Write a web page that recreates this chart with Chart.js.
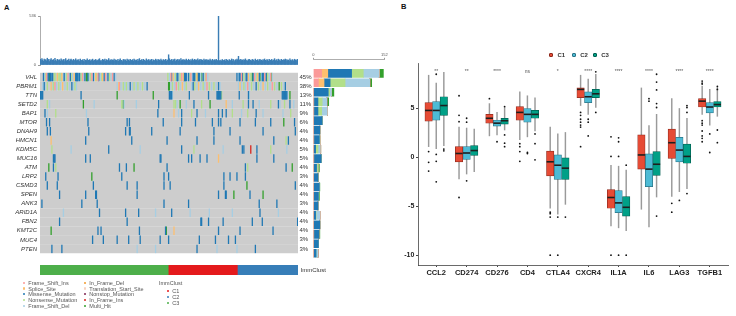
<!DOCTYPE html>
<html>
<head>
<meta charset="utf-8">
<script src="https://cdn.jsdelivr.net/npm/chart.js@4.4.1/dist/chart.umd.min.js"></script>
<style>
  body { margin: 0; width: 736px; height: 316px; overflow: hidden; background: #fff; position: relative; font-family: "Liberation Sans", Arial, sans-serif; }
  canvas { position: absolute; }
  .panel { position: absolute; font-weight: bold; font-size: 7.5px; color: #111; }
  .lab { position: absolute; font-size: 5.5px; line-height: 6px; color: #555; white-space: nowrap; }
  .dot { position: absolute; width: 2.2px; height: 2.2px; border-radius: 1.1px; }
  .sq { position: absolute; width: 4.4px; height: 4.4px; border-radius: 1px; box-sizing: border-box; border: 0.6px solid #333; }
  .labB { position: absolute; font-size: 6px; line-height: 7px; font-weight: bold; color: #333; }
</style>
</head>
<body>
<div class="panel" style="left:4px; top:3px;">A</div>
<div class="panel" style="left:401px; top:2px;">B</div>
<canvas id="tmbChart" width="302" height="60" style="left:0; top:10px;"></canvas>
<canvas id="oncoChart" width="332" height="194" style="left:0; top:66px;"></canvas>
<canvas id="countChart" width="95" height="210" style="left:300px; top:50px;"></canvas>
<canvas id="clustChart" width="340" height="22" style="left:0; top:259px;"></canvas>
<div id="legendA"></div>
<canvas id="boxChart" width="366" height="276" style="left:370px; top:40px;"></canvas>
<div id="legendB"></div>
<script>
// ---------- panel A data ----------
var nSamples = 336;
var genes = ['VHL', 'PBRM1', 'TTN', 'SETD2', 'BAP1', 'MTOR', 'DNAH9', 'HMCN1', 'KDM5C', 'MUC16',
             'ATM', 'LRP2', 'CSMD3', 'SPEN', 'ANK3', 'ARID1A', 'FBN2', 'KMT2C', 'MUC4', 'PTEN'];
var genePct = ['45%', '38%', '13%', '11%', '9%', '6%', '4%', '4%', '5%', '5%',
               '4%', '3%', '4%', '4%', '3%', '4%', '4%', '4%', '3%', '3%'];

// mutations per sample (top bar plot)
var tmb = [
  62,48,71,55,40,66,52,58,45,74,50,61,38,57,69,47,53,60,44,72,51,39,63,56,
  49,58,42,67,54,46,61,37,59,70,43,55,48,64,41,57,66,50,45,62,53,40,68,47,
  56,44,60,39,65,51,47,58,42,63,36,54,49,67,45,52,59,41,57,48,64,43,55,50,
  61,46,53,40,58,69,44,51,37,62,55,48,66,42,59,47,53,71,45,56,39,60,52,49,
  64,43,57,50,46,63,41,55,68,48,52,38,61,45,58,54,40,66,49,57,44,62,51,47,
  59,42,65,53,48,56,39,61,45,70,52,47,58,43,63,50,55,41,67,46,54,60,44,57,
  49,62,38,56,52,45,64,48,58,41,60,53,46,66,50,43,59,55,47,62,40,57,51,112,
  68,54,47,61,43,58,50,65,39,56,52,62,46,59,44,71,49,55,60,42,57,48,64,51,
  45,63,52,40,58,47,66,53,44,61,50,57,42,68,48,55,62,46,59,51,43,64,49,56,
  60,41,57,53,47,65,50,44,62,55,39,58,48,63,52,45,536,49,37,54,43,60,46,51,
  57,42,63,48,55,40,59,52,46,66,44,61,50,38,58,47,64,53,95,57,45,62,49,56,
  43,60,51,67,46,54,41,58,63,48,55,44,61,50,57,39,65,52,47,59,42,56,62,49,
  54,45,60,48,66,51,43,58,55,40,63,47,52,61,44,57,50,69,46,53,59,42,64,48,
  56,41,62,50,47,58,53,65,44,60,49,55,43,67,51,46,59,54,40,63,52,57,45,61
];

// [sample, type]  I=Frame_Shift_Ins S=Splice_Site M=Missense N=Nonsense D=Frame_Shift_Del
// F=In_Frame_Del T=Translation_Start_Site O=Nonstop R=In_Frame_Ins H=Multi_Hit
var mutVHL = [[4,'M'],[5,'D'],[7,'N'],[8,'I'],[10,'M'],[11,'M'],[12,'H'],[13,'M'],[14,'M'],[15,'D'],[16,'M'],[18,'N'],[19,'N'],[20,'D'],[22,'S'],[23,'N'],[25,'N'],[26,'D'],[27,'N'],[28,'S'],[30,'D'],[31,'M'],[33,'D'],[34,'N'],[36,'I'],[37,'D'],[39,'M'],[40,'N'],[42,'D'],[44,'S'],[46,'M'],[47,'M'],[48,'M'],[49,'M'],[50,'D'],[51,'M'],[53,'N'],[55,'I'],[56,'D'],[58,'M'],[60,'H'],[61,'H'],[62,'M'],[64,'D'],[65,'N'],[67,'I'],[69,'M'],[70,'D'],[72,'S'],[73,'N'],[75,'I'],[76,'M'],[78,'D'],[80,'N'],[81,'S'],[83,'M'],[85,'I'],[86,'D'],[88,'M'],[90,'N'],[92,'D'],[94,'I'],[96,'M'],[98,'D'],
  [166,'N'],[168,'D'],[170,'I'],[171,'M'],[173,'S'],[174,'D'],[176,'N'],[178,'M'],[179,'M'],[181,'D'],[182,'N'],[184,'I'],[186,'S'],[187,'M'],[188,'M'],[189,'M'],[190,'M'],[192,'D'],[193,'M'],[195,'N'],[196,'I'],[198,'D'],[199,'M'],[200,'M'],[201,'M'],[203,'N'],[204,'S'],[205,'M'],[206,'M'],[207,'M'],[209,'D'],[210,'H'],[212,'M'],[213,'D'],[215,'N'],[216,'I'],[218,'D'],
  [256,'M'],[258,'D'],[259,'M'],[260,'M'],[262,'I'],[263,'M'],[265,'N'],[266,'D'],[268,'M'],[269,'M'],[271,'S'],[272,'D'],[274,'N'],[276,'H'],[277,'M'],[279,'I'],[280,'D'],[282,'N'],[283,'S'],[285,'M'],[286,'H'],[288,'D'],[289,'M'],[290,'M'],[291,'M'],[292,'I'],[294,'M'],[295,'H'],[296,'N'],[298,'D'],[300,'I'],[301,'H'],[302,'D']];
var mutPBRM1 = [[3,'D'],[5,'M'],[6,'D'],[9,'N'],[14,'S'],[15,'D'],[17,'N'],[19,'I'],[21,'D'],[24,'N'],[26,'D'],[29,'S'],[32,'D'],[35,'N'],[38,'D'],[41,'M'],[43,'D'],[45,'N'],[47,'D'],
  [100,'D'],[102,'S'],[103,'I'],[105,'D'],[108,'N'],[110,'D'],[112,'N'],[114,'D'],[117,'M'],[120,'D'],[122,'N'],[125,'D'],[127,'N'],[130,'D'],[133,'N'],[136,'D'],[139,'M'],
  [167,'H'],[168,'H'],[170,'D'],[172,'N'],[175,'D'],[177,'I'],[180,'N'],[182,'D'],[185,'S'],[188,'D'],[190,'N'],[197,'D'],[199,'M'],[201,'N'],[204,'D'],[206,'S'],[209,'D'],[212,'N'],[214,'D'],[217,'I'],[220,'N'],[223,'D'],[226,'N'],[229,'D'],[232,'M'],[234,'D'],
  [258,'D'],[260,'S'],[262,'D'],[265,'N'],[267,'D'],[270,'I'],[272,'D'],[275,'N'],[278,'D'],[281,'M'],[284,'N'],[287,'D'],[290,'S'],[293,'D'],[296,'N'],[299,'D'],[302,'I'],[305,'N'],[308,'D'],[311,'H'],[314,'N'],[317,'D'],[319,'M']];
var mutTTN = [[0,'M'],[1,'M'],[2,'M'],[3,'M'],[53,'M'],[100,'H'],[147,'H'],[168,'M'],[169,'M'],[170,'M'],[171,'M'],[172,'D'],[194,'M'],[219,'M'],[230,'M'],[231,'M'],[232,'M'],[233,'M'],[234,'M'],[235,'M'],[236,'N'],[259,'M'],[271,'M'],[272,'D'],[315,'M'],[316,'M'],[317,'M'],[318,'M'],[319,'M'],[320,'M'],[321,'M'],[322,'D'],[325,'H']];
var mutSETD2 = [[9,'N'],[12,'D'],[56,'H'],[70,'D'],[106,'N'],[108,'H'],[109,'D'],[125,'D'],[154,'M'],[174,'N'],[176,'N'],[178,'D'],[182,'H'],[190,'D'],[200,'M'],[210,'N'],[221,'H'],[242,'S'],[250,'D'],[264,'N'],[271,'M'],[277,'M'],[285,'D'],[300,'N'],[310,'M'],[312,'D'],[318,'N'],[325,'M'],[330,'D']];
var mutBAP1 = [[6,'M'],[9,'D'],[20,'N'],[60,'D'],[153,'M'],[174,'S'],[180,'D'],[184,'M'],[197,'N'],[204,'M'],[215,'D'],[232,'M'],[237,'M'],[242,'M'],[250,'N'],[262,'D'],[270,'N'],[281,'M'],[290,'D'],[316,'D'],[326,'N']];
var mutMTOR = [[8,'M'],[12,'M'],[62,'M'],[113,'M'],[116,'M'],[160,'M'],[184,'M'],[202,'M'],[224,'M'],[232,'M'],[235,'M'],[260,'M'],[280,'M'],[300,'M'],[317,'H'],[331,'M']];
var mutDNAH9 = [[9,'M'],[13,'M'],[63,'M'],[111,'M'],[116,'M'],[117,'M'],[145,'M'],[182,'M'],[226,'M'],[247,'M'],[290,'M'],[332,'M']];
var mutHMCN1 = [[14,'S'],[59,'M'],[119,'M'],[165,'M'],[204,'M'],[226,'M'],[260,'M'],[304,'M'],[320,'N'],[323,'M']];
var mutKDM5C = [[15,'N'],[40,'D'],[89,'M'],[130,'D'],[184,'M'],[200,'N'],[238,'D'],[263,'M'],[265,'M'],[274,'R'],[282,'M'],[300,'N'],[321,'D']];
var mutMUC16 = [[17,'M'],[18,'M'],[19,'M'],[59,'M'],[65,'M'],[156,'M'],[157,'M'],[193,'M'],[197,'M'],[208,'M'],[217,'M'],[232,'S'],[282,'M'],[304,'M']];
var mutATM = [[11,'H'],[17,'M'],[20,'N'],[103,'M'],[112,'M'],[122,'H'],[165,'M'],[267,'M'],[270,'N'],[320,'M'],[328,'H']];
var mutLRP2 = [[7,'M'],[23,'M'],[67,'H'],[106,'M'],[161,'M'],[167,'M'],[239,'M'],[247,'M'],[256,'M'],[267,'M']];
var mutCSMD3 = [[9,'M'],[22,'M'],[69,'M'],[113,'M'],[126,'M'],[161,'M'],[169,'M'],[239,'M'],[269,'H'],[332,'M']];
var mutSPEN = [[25,'M'],[59,'M'],[72,'M'],[73,'M'],[126,'M'],[232,'M'],[241,'M'],[242,'M'],[252,'H'],[273,'M'],[290,'H']];
var mutANK3 = [[2,'M'],[54,'M'],[74,'M'],[161,'M'],[193,'M'],[285,'M'],[308,'M']];
var mutARID1A = [[30,'D'],[77,'M'],[111,'M'],[128,'M'],[150,'D'],[171,'M'],[195,'D'],[220,'D'],[250,'D'],[286,'M'],[310,'D']];
var mutFBN2 = [[25,'M'],[113,'M'],[209,'M'],[210,'M'],[219,'M'],[238,'M'],[276,'M'],[289,'M'],[335,'M']];
var mutKMT2C = [[14,'H'],[75,'M'],[79,'M'],[129,'M'],[163,'M'],[164,'H'],[174,'S'],[232,'M'],[260,'M'],[303,'M']];
var mutMUC4 = [[68,'M'],[82,'M'],[100,'M'],[115,'M'],[130,'M'],[156,'M'],[167,'M'],[207,'M'],[228,'M'],[245,'M'],[254,'M']];
var mutPTEN = [[15,'M'],[28,'M'],[126,'D'],[150,'D'],[204,'M'],[230,'D'],[256,'D'],[280,'M']];
var geneMuts = [mutVHL, mutPBRM1, mutTTN, mutSETD2, mutBAP1, mutMTOR, mutDNAH9, mutHMCN1, mutKDM5C, mutMUC16,
                mutATM, mutLRP2, mutCSMD3, mutSPEN, mutANK3, mutARID1A, mutFBN2, mutKMT2C, mutMUC4, mutPTEN];

// mutated samples per gene and class (right bar plot)
var cntFSI = [18,11,0,0,0,0,0,0,0,0,0,0,0,0,0,0,0,0,0,0];
var cntSS  = [13,12,0,1,1,0,0,1,0,1,0,0,0,0,0,0,0,1,0,0];
var cntMIS = [51,13,32,9,9,19,14,12,5,16,7,10,13,11,10,5,14,11,11,6];
var cntNON = [25,32,3,9,8,0,0,1,5,0,3,0,0,0,0,1,0,0,0,0];
var cntFSD = [34,53,4,10,12,0,0,0,5,0,0,0,0,0,0,8,0,0,0,4];
var cntIFD = [0,0,0,0,0,0,0,0,0,0,0,0,0,0,0,0,0,0,0,0];
var cntTSS = [0,0,0,0,0,0,0,0,0,0,0,0,0,0,0,0,0,0,0,0];
var cntNST = [0,0,0,0,0,0,0,0,0,0,0,0,0,0,0,0,0,0,0,0];
var cntIFI = [0,0,0,0,0,0,0,0,1,0,0,0,0,0,0,0,0,0,0,0];
var cntMH  = [9,4,5,4,0,1,0,0,0,0,3,1,1,2,0,0,0,2,0,0];

var clustOrder = ['C3', 'C1', 'C2'];
var clustSizes = [167, 90, 79];

var mutTypes = [
  { code: 'I', name: 'Frame_Shift_Ins', color: '#FB9A99', counts: cntFSI },
  { code: 'S', name: 'Splice_Site', color: '#FDBF6F', counts: cntSS },
  { code: 'M', name: 'Missense_Mutation', color: '#1F78B4', counts: cntMIS },
  { code: 'N', name: 'Nonsense_Mutation', color: '#B2DF8A', counts: cntNON },
  { code: 'D', name: 'Frame_Shift_Del', color: '#A6CEE3', counts: cntFSD },
  { code: 'F', name: 'In_Frame_Del', color: '#F29A2E', counts: cntIFD },
  { code: 'T', name: 'Translation_Start_Site', color: '#F6D3C2', counts: cntTSS },
  { code: 'O', name: 'Nonstop_Mutation', color: '#7E2552', counts: cntNST },
  { code: 'R', name: 'In_Frame_Ins', color: '#D7261E', counts: cntIFI },
  { code: 'H', name: 'Multi_Hit', color: '#33A02C', counts: cntMH }
];
var clustColors = { C1: '#E41A1C', C2: '#377EB8', C3: '#4DAF4A' };

// ---------- panel B data ----------
var boxGenes = ['CCL2', 'CD274', 'CD276', 'CD4', 'CTLA4', 'CXCR4', 'IL1A', 'IL6', 'LAG3', 'TGFB1'];
var signif = ['**', '**', '****', 'ns', '*', '****', '****', '****', '****', '****'];
var yTicksB = [-10, -5, 0, 5];
// [lower whisker, q1, median, q3, upper whisker]
var statsC1 = [[1.1,3.7,4.8,5.6,8.4],[-2.2,-0.45,0.4,1.1,3.1],[2.2,3.5,4.0,4.4,5.5],[1.8,3.8,4.6,5.2,6.7],[-5.2,-1.9,-0.45,0.65,3.1],
               [5.3,6.1,6.95,7.1,8.4],[-7.0,-5.2,-4.1,-3.3,-0.8],[-5.3,-1.2,0.25,2.3,7.1],[-4.0,-0.1,1.5,2.9,6.0],[4.4,5.15,5.75,6.0,7.3]];
var statsC2 = [[0.9,3.8,4.8,5.7,7.6],[-1.7,-0.2,0.45,1.1,3.0],[2.3,3.2,3.5,3.8,4.6],[2.1,3.6,4.4,5.0,6.3],[-5.8,-2.25,-0.8,0.25,2.4],
               [4.4,5.6,6.2,6.7,8.0],[-7.2,-5.65,-4.65,-3.4,-0.9],[-7.1,-3.0,-1.2,0.36,3.25],[-3.5,-0.45,0.75,2.05,5.0],[3.3,4.55,5.15,5.6,6.95]];
var statsC3 = [[1.2,4.3,5.3,6.2,8.7],[-1.45,0.2,0.7,1.2,2.9],[2.8,3.4,3.75,4.0,5.1],[2.7,4.0,4.4,4.8,6.1],[-4.8,-2.25,-1.1,0.0,2.55],
               [5.1,6.1,6.5,6.95,8.5],[-7.5,-6.0,-5.1,-4.0,-1.3],[-4.05,-1.85,-0.7,0.6,4.4],[-3.2,-0.6,0.1,1.35,4.0],[4.2,5.15,5.4,5.7,7.1]];
// [gene index, value]
var outC1 = [[0,0.6],[0,-0.5],[0,-1.4],[1,6.3],[1,4.3],[1,3.65],[1,-4.1],[2,6.0],[3,1.4],[3,1.1],[3,0.6],[3,-0.4],
             [4,-5.6],[4,-5.75],[4,-6.1],[4,-10],[5,4.6],[5,4.3],[5,3.9],[5,3.6],[5,3.3],[5,3.1],[5,1.1],[6,2.1],[6,0.1],[6,-10],
             [8,-4.7],[8,-5.6],[9,7.8],[9,7.6],[9,7.5],[9,3.75],[9,3.5],[9,3.3],[9,2.7],[9,2.2],[9,1.95],[9,1.6]];
var outC2 = [[0,8.5],[0,0.3],[0,-0.4],[0,-2.5],[1,4.0],[1,3.6],[1,-2.4],[2,1.6],[3,0.4],[3,0.5],[4,-6.1],[4,-10],
             [5,3.9],[5,3.6],[5,2.2],[6,2.0],[6,1.6],[6,0.1],[6,-10],[7,6.0],[7,5.75],[8,-4.4],[9,2.4],[9,0.5]];
var outC3 = [[0,0.85],[0,0.67],[2,5.2],[2,2.3],[2,1.45],[2,1.1],[3,2.4],[3,1.4],[3,-0.25],[4,-6.1],[5,8.75],[5,4.6],
             [6,-0.8],[6,-10],[7,8.5],[7,7.7],[7,6.9],[7,5.5],[7,5.1],[7,-6.0],[8,5.3],[8,5.1],[8,4.6],[8,-3.7],
             [9,7.25],[9,6.95],[9,2.8],[9,1.5]];

var groupsB = [
  { name: 'C1', fill: '#E64B35', edge: '#8E2A1D', stats: statsC1, out: outC1 },
  { name: 'C2', fill: '#4DBBD5', edge: '#2A7385', stats: statsC2, out: outC2 },
  { name: 'C3', fill: '#00A087', edge: '#005E4F', stats: statsC3, out: outC3 }
];

// ---------- helpers ----------
Chart.defaults.font.family = '"Liberation Sans", Arial, sans-serif';
Chart.defaults.animation = false;
Chart.defaults.responsive = false;
Chart.defaults.events = [];
Chart.defaults.layout.autoPadding = false;
Chart.defaults.plugins.legend.display = false;
Chart.defaults.plugins.tooltip.enabled = false;

function fixWidth(w) { return function (scale) { scale.width = w; }; }
function fixHeight(h) { return function (scale) { scale.height = h; }; }
function onlyTicks(values) {
  return function (scale) { scale.ticks = values.map(function (v) { return { value: v }; }); };
}
var geneIdx = genes.map(function (g, i) { return i; });
var noAxisLines = { display: false, drawTicks: false };

// ---------- TMB bars ----------
new Chart(document.getElementById('tmbChart'), {
  type: 'bar',
  data: {
    labels: tmb.map(function (v, i) { return 'S' + (i + 1); }),
    datasets: [{ data: tmb, backgroundColor: '#3A7DB5', categoryPercentage: 1, barPercentage: 1 }]
  },
  options: {
    layout: { padding: { top: 6, bottom: 5, left: 0, right: 4 } },
    scales: {
      x: { display: false },
      y: {
        min: 0, max: 536, afterFit: fixWidth(40), afterBuildTicks: onlyTicks([0, 536]),
        border: { color: '#999', width: 0.8 },
        grid: { display: true, drawOnChartArea: false, tickLength: 2, color: '#999' },
        ticks: { font: { size: 4 }, color: '#555', padding: 2 }
      }
    }
  }
});

// ---------- oncoplot ----------
var oncoSets = [{
  type: 'bar', indexAxis: 'y', grouped: false, order: 2,
  data: genes.map(function (g, i) { return { x: [0, nSamples], y: i }; }),
  backgroundColor: '#CDCDCD', barThickness: 8.5
}];
mutTypes.forEach(function (t) {
  var pts = [];
  geneMuts.forEach(function (list, gi) {
    list.forEach(function (m) { if (m[1] === t.code) pts.push({ x: m[0] + 0.5, y: gi }); });
  });
  oncoSets.push({
    type: 'scatter', indexAxis: 'x', order: 1, data: pts,
    pointStyle: 'line', pointRotation: 90, pointRadius: 4.25,
    pointBorderWidth: 1.3, pointBorderColor: t.color, pointBackgroundColor: t.color
  });
});
new Chart(document.getElementById('oncoChart'), {
  type: 'bar',
  data: { datasets: oncoSets },
  options: {
    layout: { padding: { top: 2.6, bottom: 2, left: 0, right: 0 } },
    scales: {
      x: { type: 'linear', offset: false, min: 0, max: nSamples, display: false },
      y: {
        type: 'linear', offset: false, min: -0.5, max: 19.5, reverse: true,
        afterFit: fixWidth(40), afterBuildTicks: onlyTicks(geneIdx),
        grid: noAxisLines, border: { display: false },
        ticks: { autoSkip: false, callback: function (v) { return genes[v]; }, font: { size: 6, style: 'italic' }, color: '#333', padding: 3 }
      },
      y2: {
        type: 'linear', offset: false, position: 'right', min: -0.5, max: 19.5, reverse: true,
        afterFit: fixWidth(34), afterBuildTicks: onlyTicks(geneIdx),
        grid: noAxisLines, border: { display: false },
        ticks: { autoSkip: false, callback: function (v) { return genePct[v]; }, font: { size: 6 }, color: '#333', padding: 1.5 }
      }
    }
  }
});

// ---------- mutation counts per gene ----------
new Chart(document.getElementById('countChart'), {
  type: 'bar',
  data: {
    datasets: mutTypes.map(function (t) {
      return {
        data: t.counts.map(function (c, i) { return { x: c, y: i }; }),
        backgroundColor: t.color, barThickness: 8
      };
    })
  },
  options: {
    indexAxis: 'y',
    layout: { padding: { left: 13.3, right: 10.7, top: 0, bottom: 2 } },
    scales: {
      x: {
        type: 'linear', offset: false, position: 'top', stacked: true, min: 0, max: 152,
        afterFit: fixHeight(9.3), afterBuildTicks: onlyTicks([0, 152]),
        border: { color: '#999', width: 0.8 },
        grid: { display: true, drawOnChartArea: false, tickLength: 1.5, color: '#999' },
        ticks: { font: { size: 4 }, color: '#555', padding: 0.5 }
      },
      y: { type: 'linear', offset: false, min: -1.48, max: 19.5, reverse: true, stacked: true, display: false }
    }
  }
});

// ---------- ImmClust annotation ----------
new Chart(document.getElementById('clustChart'), {
  type: 'bar',
  data: {
    datasets: clustOrder.map(function (c, k) {
      return { data: [{ x: clustSizes[k], y: 0 }], backgroundColor: clustColors[c], barThickness: 16.5 };
    })
  },
  options: {
    indexAxis: 'y',
    layout: { padding: { top: 2, bottom: 3, left: 40, right: 0 } },
    scales: {
      x: { type: 'linear', offset: false, stacked: true, min: 0, max: nSamples, display: false },
      y: {
        type: 'linear', offset: false, stacked: true, position: 'right', min: -0.5, max: 0.5,
        afterFit: fixWidth(42), afterBuildTicks: onlyTicks([0]),
        grid: noAxisLines, border: { display: false },
        ticks: { callback: function () { return 'ImmClust'; }, font: { size: 6 }, color: '#333', padding: 2.5 }
      }
    }
  }
});

// ---------- legend for panel A ----------
var legendA = document.getElementById('legendA');
function addLabel(parent, x, y, text, color) {
  if (color) {
    var d = document.createElement('div');
    d.className = 'dot';
    d.style.left = (x - 1.1) + 'px';
    d.style.top = (y - 1.1) + 'px';
    d.style.background = color;
    parent.appendChild(d);
  }
  var s = document.createElement('div');
  s.className = 'lab';
  s.style.left = (color ? x + 4.3 : x) + 'px';
  s.style.top = (y - 3) + 'px';
  s.textContent = text;
  parent.appendChild(s);
}
mutTypes.forEach(function (t, i) {
  var col = Math.floor(i / 5), row = i % 5;
  addLabel(legendA, col === 0 ? 24 : 85, 282.7 + row * 5.85, t.name, t.color);
});
addLabel(legendA, 159, 283.3, 'ImmClust', null);
['C1', 'C2', 'C3'].forEach(function (c, i) {
  addLabel(legendA, 168, 290.7 + i * 6, c, clustColors[c]);
});

// ---------- panel B boxplots ----------
var boxSets = [];
groupsB.forEach(function (g, k) {
  var off = (k - 1) * 0.25;
  boxSets.push({
    type: 'bar', grouped: false, order: 3, barThickness: 0.8, backgroundColor: '#9A9A9A',
    data: g.stats.map(function (s, i) { return { x: i + off, y: [s[0], s[4]] }; })
  });
  boxSets.push({
    type: 'bar', grouped: false, order: 2, barThickness: 7.4,
    backgroundColor: g.fill, borderColor: g.edge, borderWidth: 0.7, borderSkipped: false,
    data: g.stats.map(function (s, i) { return { x: i + off, y: [s[1], s[3]] }; })
  });
  boxSets.push({
    type: 'scatter', order: 1, pointStyle: 'line', pointRadius: 3.6,
    pointBorderWidth: 1.6, pointBorderColor: '#1E1E1E',
    data: g.stats.map(function (s, i) { return { x: i + off, y: s[2] }; })
  });
  boxSets.push({
    type: 'scatter', order: 0, pointRadius: 0.9, pointBorderWidth: 0, pointBackgroundColor: '#111',
    data: g.out.map(function (o) { return { x: o[0] + off, y: o[1] }; })
  });
});

var signifPlugin = {
  id: 'signif',
  afterDatasetsDraw: function (chart) {
    var ctx = chart.ctx, x = chart.scales.x, top = chart.chartArea.top;
    ctx.save();
    ctx.font = '5px "Liberation Sans", Arial, sans-serif';
    ctx.fillStyle = '#555';
    ctx.textAlign = 'center';
    signif.forEach(function (t, i) { ctx.fillText(t, x.getPixelForValue(i), top + 10); });
    ctx.restore();
  }
};

var axisB = { color: '#444', width: 0.8 };
new Chart(document.getElementById('boxChart'), {
  type: 'bar',
  data: { datasets: boxSets },
  options: {
    layout: { padding: { top: 23, right: 8, left: 0, bottom: 0 } },
    scales: {
      x: {
        type: 'linear', offset: false, min: -0.6, max: 9.6,
        afterFit: fixHeight(51), afterBuildTicks: onlyTicks(boxGenes.map(function (g, i) { return i; })),
        border: axisB,
        grid: { display: true, offset: false, drawOnChartArea: false, tickLength: 2, color: '#444' },
        ticks: { autoSkip: false, maxRotation: 0, callback: function (v) { return boxGenes[v]; }, font: { size: 7.5, weight: 'bold' }, color: '#222', padding: 1 }
      },
      y: {
        type: 'linear', offset: false, min: -11, max: 9.65,
        afterFit: fixWidth(48), afterBuildTicks: onlyTicks(yTicksB),
        border: axisB,
        grid: { display: true, drawOnChartArea: false, tickLength: 2, color: '#444' },
        ticks: { font: { size: 7, weight: 'bold' }, color: '#222', padding: 1.7 }
      }
    }
  },
  plugins: [signifPlugin]
});

// ---------- legend for panel B ----------
var legendB = document.getElementById('legendB');
var legendX = [549, 571.7, 592.7];
groupsB.forEach(function (g, k) {
  var sq = document.createElement('div');
  sq.className = 'sq';
  sq.style.left = legendX[k] + 'px';
  sq.style.top = '52.8px';
  sq.style.background = g.fill;
  sq.style.borderColor = g.edge;
  legendB.appendChild(sq);
  var t = document.createElement('div');
  t.className = 'labB';
  t.style.left = (legendX[k] + 8.5) + 'px';
  t.style.top = '51.5px';
  t.textContent = g.name;
  legendB.appendChild(t);
});
</script>
</body>
</html>
